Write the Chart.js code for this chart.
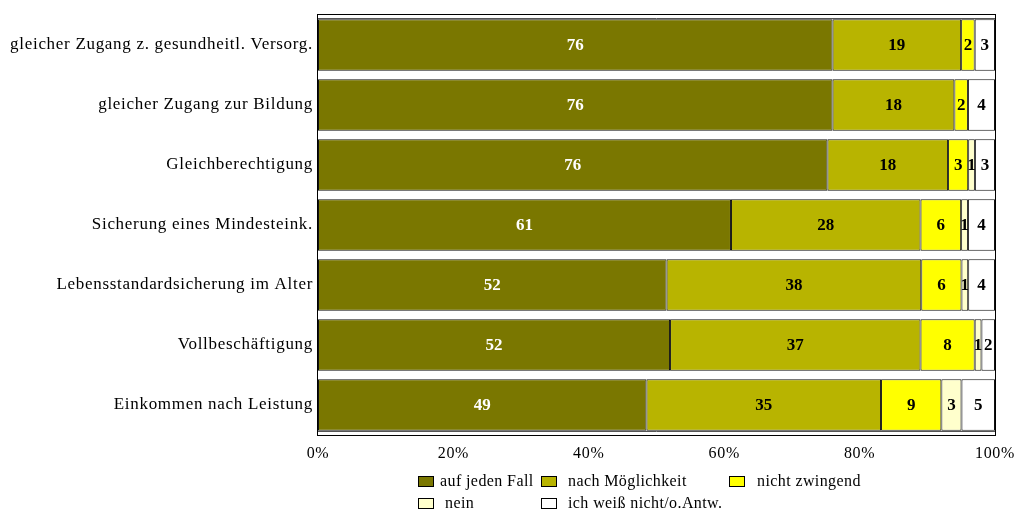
<!DOCTYPE html>
<html>
<head>
<meta charset="utf-8">
<script src="https://cdn.jsdelivr.net/npm/chart.js@4/dist/chart.umd.min.js"></script>
<style>
  body { margin: 0; background: #fff; }
  #wrap { position: relative; width: 1017px; height: 513px; }
  #chart { position: absolute; left: 0; top: 0; }
  .lg { position: absolute; font-family: "Liberation Serif", "Times New Roman", serif; font-size: 16px; letter-spacing: 0.4px; color: #000; line-height: 18px; white-space: nowrap; }
  .lg i { position: absolute; left: 0; top: 4px; width: 14px; height: 9px; border: 1px solid #000; }
  .lg span { position: absolute; top: 0; }
</style>
</head>
<body>
<div id="wrap">
  <canvas id="chart" width="1017" height="513"></canvas>
  <div id="legend"></div>
</div>
<script>
var categories = [
  'gleicher Zugang z. gesundheitl. Versorg.',
  'gleicher Zugang zur Bildung',
  'Gleichberechtigung',
  'Sicherung eines Mindesteink.',
  'Lebensstandardsicherung im Alter',
  'Vollbeschäftigung',
  'Einkommen nach Leistung'
];
var seriesNames = ['auf jeden Fall', 'nach Möglichkeit', 'nicht zwingend', 'nein', 'ich weiß nicht/o.Antw.'];
var aufJedenFall = [76, 76, 76, 61, 52, 52, 49];
var nachMoeglichkeit = [19, 18, 18, 28, 38, 37, 35];
var nichtZwingend = [2, 2, 3, 6, 6, 8, 9];
var nein = [0, 0, 1, 1, 1, 1, 3];
var weissNicht = [3, 4, 3, 4, 4, 2, 5];
var xTickLabels = ['0%', '20%', '40%', '60%', '80%', '100%'];

var seriesColors = ['#7a7700', '#b8b400', '#ffff00', '#ffffcc', '#ffffff'];
var labelColors = ['#ffffff', '#000000', '#000000', '#000000', '#000000'];
var allSeries = [aufJedenFall, nachMoeglichkeit, nichtZwingend, nein, weissNicht];

// 100% stacked: each row is normalised to its total
var totals = categories.map(function (_, i) {
  return allSeries.reduce(function (s, arr) { return s + arr[i]; }, 0);
});

var datasets = allSeries.map(function (arr, k) {
  return {
    label: seriesNames[k],
    raw: arr,
    data: arr.map(function (v, i) { return v / totals[i] * 100; }),
    backgroundColor: seriesColors[k],
    borderColor: '#111',
    borderWidth: 1,
    borderSkipped: false,
    barPercentage: 0.86,
    categoryPercentage: 1
  };
});

// the original uses a wide-set serif; give the canvas text some tracking
var tracking = {
  id: 'tracking',
  beforeLayout: function (chart) { chart.ctx.letterSpacing = '0.7px'; },
  beforeDraw: function (chart) { chart.ctx.letterSpacing = '0.7px'; }
};

var valueLabels = {
  id: 'valueLabels',
  afterDatasetsDraw: function (chart) {
    var ctx = chart.ctx;
    ctx.save();
    ctx.letterSpacing = '0px';
    ctx.font = 'bold 17px "Liberation Serif", serif';
    ctx.textAlign = 'center';
    ctx.textBaseline = 'middle';
    chart.data.datasets.forEach(function (ds, k) {
      chart.getDatasetMeta(k).data.forEach(function (bar, i) {
        if (!ds.raw[i]) return;
        ctx.fillStyle = labelColors[k];
        ctx.fillText(String(ds.raw[i]), (bar.base + bar.x) / 2, bar.y + 1);
      });
    });
    ctx.restore();
  }
};

var plotFrame = {
  id: 'plotFrame',
  afterDraw: function (chart) {
    var a = chart.chartArea;
    var ctx = chart.ctx;
    ctx.save();
    ctx.strokeStyle = '#000';
    ctx.lineWidth = 1;
    ctx.strokeRect(a.left - 0.5, a.top - 0.5, a.right - a.left + 1, a.bottom - a.top + 1);
    ctx.strokeStyle = '#555';
    ctx.beginPath();
    ctx.moveTo(a.left, a.top + 3.5);
    ctx.lineTo(a.right, a.top + 3.5);
    ctx.moveTo(a.left, a.bottom - 3.5);
    ctx.lineTo(a.right, a.bottom - 3.5);
    ctx.stroke();
    ctx.restore();
  }
};

new Chart(document.getElementById('chart'), {
  type: 'bar',
  data: { labels: categories, datasets: datasets },
  options: {
    indexAxis: 'y',
    responsive: false,
    animation: false,
    layout: { padding: { top: 15, right: 22, bottom: 0, left: 0 } },
    plugins: {
      legend: { display: false },
      tooltip: { enabled: false }
    },
    scales: {
      x: {
        stacked: true,
        min: 0,
        max: 100,
        afterFit: function (scale) {
          scale.height = 78;
          scale.paddingLeft = 0;
          scale.paddingRight = 0;
        },
        afterBuildTicks: function (scale) {
          scale.ticks = xTickLabels.map(function (_, i) { return { value: i * 20 }; });
        },
        grid: { display: false, drawTicks: false },
        border: { display: false },
        ticks: {
          padding: 9,
          color: '#000',
          font: { family: '"Liberation Serif", serif', size: 16 },
          callback: function (v, i) { return xTickLabels[i]; }
        }
      },
      y: {
        stacked: true,
        afterFit: function (scale) {
          scale.width = 318;
          scale.paddingTop = 0;
          scale.paddingBottom = 0;
        },
        grid: { display: false, drawTicks: false },
        border: { display: false },
        ticks: {
          padding: 5,
          color: '#000',
          font: { family: '"Liberation Serif", serif', size: 17 }
        }
      }
    }
  },
  plugins: [tracking, valueLabels, plotFrame]
});

// legend laid out as in the original (two rows, fixed columns)
var legendPos = [[418, 472, 22], [541, 472, 27], [729, 472, 28], [418, 494, 27], [541, 494, 27]];
var legendHtml = '';
seriesNames.forEach(function (name, k) {
  var p = legendPos[k];
  legendHtml += '<div class="lg" style="left:' + p[0] + 'px;top:' + p[1] + 'px">' +
    '<i style="background:' + seriesColors[k] + '"></i>' +
    '<span style="left:' + p[2] + 'px">' + name + '</span></div>';
});
document.getElementById('legend').innerHTML = legendHtml;
</script>
</body>
</html>
